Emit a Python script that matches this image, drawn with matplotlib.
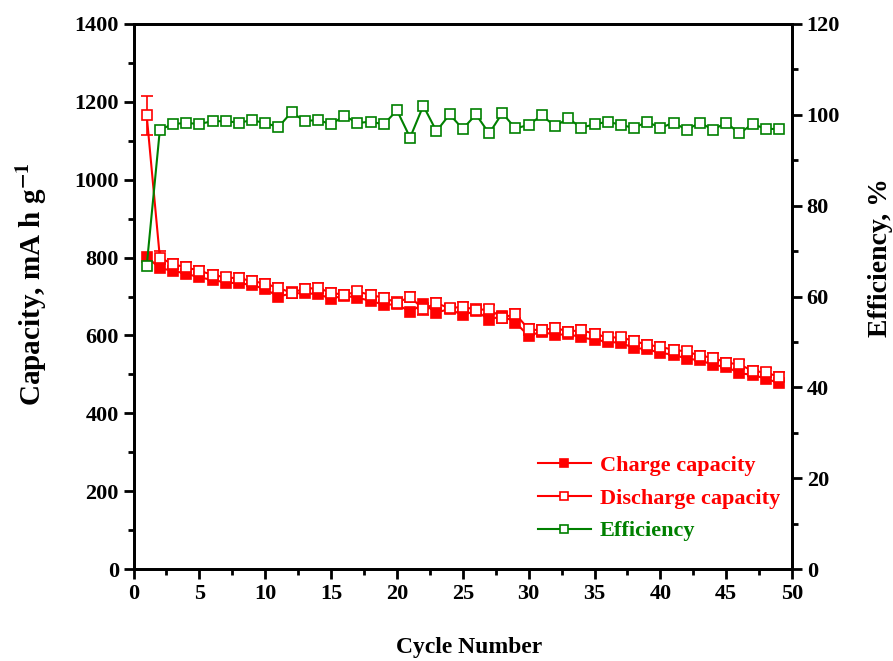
import matplotlib.pyplot as plt
from matplotlib.ticker import MultipleLocator

# cycle data
cycles = list(range(1, 50))
charge = [802, 773, 766, 759, 749, 743, 736, 734, 730, 719,
          700, 708, 709, 706, 695, 702, 697, 689, 679, 680,
          661, 681, 659, 668, 652, 664, 640, 651, 633, 599,
          610, 601, 604, 595, 589, 584, 581, 568, 565, 555,
          551, 540, 537, 524, 520, 503, 499, 489, 478]
discharge = [1166, 800, 783, 775, 766, 756, 749, 747, 740, 733,
             722, 710, 720, 722, 710, 704, 713, 704, 697, 684,
             699, 668, 683, 670, 674, 666, 667, 646, 655, 616,
             613, 620, 610, 614, 604, 595, 595, 586, 576, 571,
             563, 559, 548, 543, 530, 526, 509, 505, 494]
discharge_err = [50, 16, 13, 14, 12, 12, 12, 13, 12, 12,
                 14, 14, 12, 12, 12, 14, 12, 12, 12, 14,
                 12, 16, 14, 12, 12, 14, 12, 14, 12, 14,
                 14, 12, 12, 12, 12, 12, 12, 12, 12, 12,
                 12, 12, 12, 12, 12, 12, 12, 12, 12]
efficiency = [66.7, 96.7, 98.0, 98.2, 98.0, 98.6, 98.6, 98.3, 98.8, 98.2,
              97.3, 100.6, 98.6, 98.9, 97.9, 99.8, 98.2, 98.5, 97.9, 101.0,
              95.0, 102.0, 96.4, 100.1, 96.9, 100.1, 95.9, 100.4, 97.0, 97.8,
              99.9, 97.5, 99.2, 97.2, 97.9, 98.5, 97.8, 97.1, 98.5, 97.1,
              98.3, 96.7, 98.3, 96.7, 98.3, 95.9, 98.0, 96.9, 96.9]

plt.rcParams['font.family'] = 'Liberation Serif'
plt.rcParams['font.weight'] = 'bold'
plt.rcParams['mathtext.fontset'] = 'stix'

red = '#ff0000'
green = '#008000'

fig, ax1 = plt.subplots(figsize=(8.93, 6.61), dpi=100)
fig.subplots_adjust(left=0.1495, right=0.887, bottom=0.139, top=0.9637)
ax2 = ax1.twinx()

# capacity curves
l1, = ax1.plot(cycles, charge, color=red, lw=1.5, marker='s', ms=7.5,
               mfc=red, mec=red, mew=1.2, label='Charge capacity', zorder=2)
ax1.errorbar(cycles, discharge, yerr=discharge_err, fmt='none', ecolor=red,
             elinewidth=1.2, capsize=4, capthick=1.2, zorder=3)
l2, = ax1.plot(cycles, discharge, color=red, lw=1.5, marker='s', ms=7.5,
               mfc='white', mec=red, mew=1.2, label='Discharge capacity', zorder=4)

# efficiency curve
l3, = ax2.plot(cycles, efficiency, color=green, lw=1.5, marker='s', ms=7.5,
               mfc='white', mec=green, mew=1.2, label='Efficiency')

ax1.set_xlim(0, 50)
ax1.set_ylim(0, 1400)
ax2.set_ylim(0, 120)

ax1.xaxis.set_major_locator(MultipleLocator(5))
ax1.xaxis.set_minor_locator(MultipleLocator(2.5))
ax1.yaxis.set_major_locator(MultipleLocator(200))
ax1.yaxis.set_minor_locator(MultipleLocator(100))
ax2.yaxis.set_major_locator(MultipleLocator(20))
ax2.yaxis.set_minor_locator(MultipleLocator(10))

for ax in (ax1, ax2):
    ax.tick_params(which='major', direction='out', length=7, width=2, labelsize=16)
    ax.tick_params(which='minor', direction='out', length=4, width=2)
    for sp in ax.spines.values():
        sp.set_linewidth(2)
ax1.tick_params(top=False, right=False, which='both')

ax1.set_xlabel('Cycle Number', fontsize=17, fontweight='bold', labelpad=24, x=0.51)
ax1.set_ylabel('Capacity, mA h g$^{\\mathbf{-1}}$', fontsize=21, fontweight='bold',
               labelpad=18, y=0.523)
ax2.set_ylabel('Efficiency, %', fontsize=20, fontweight='bold', labelpad=20, y=0.571)

ax2.legend(handles=[l1, l2, l3], loc='upper left', bbox_to_anchor=(0.6, 0.225),
           frameon=False, labelcolor='linecolor', prop={'size': 16, 'weight': 'bold'},
           handlelength=2.4, handletextpad=0.4, labelspacing=0.55, markerscale=0.75,
           borderaxespad=0)

plt.savefig('out.png')
